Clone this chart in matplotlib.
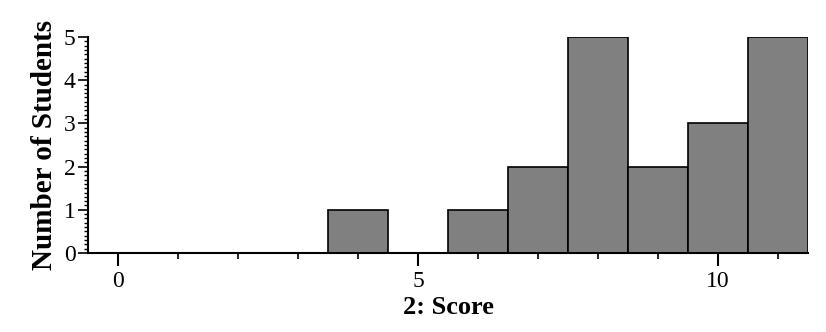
import matplotlib
matplotlib.use("Agg")
import matplotlib.pyplot as plt
from matplotlib.ticker import MultipleLocator

scores = [0, 1, 2, 3, 4, 5, 6, 7, 8, 9, 10, 11]
counts = [0, 0, 0, 0, 1, 0, 1, 2, 5, 2, 3, 5]

plt.rcParams['font.family'] = ['Liberation Serif', 'DejaVu Serif']

fig = plt.figure(figsize=(8.26, 3.32), dpi=100)
ax = fig.add_axes([88/826, 1-253/332, (808-88)/826, (253-37)/332])

ax.bar(scores, counts, width=1.0, color='#808080', edgecolor='black', linewidth=1.2)

ax.set_xlim(-0.5, 11.5)
ax.set_ylim(0, 5)
ax.spines['top'].set_visible(False)
ax.spines['right'].set_visible(False)
ax.spines['left'].set_linewidth(1.5)
ax.spines['bottom'].set_linewidth(1.5)

ax.xaxis.set_major_locator(MultipleLocator(5))
ax.xaxis.set_minor_locator(MultipleLocator(1))
ax.yaxis.set_major_locator(MultipleLocator(1))
ax.yaxis.set_minor_locator(MultipleLocator(0.1))

ax.tick_params(axis='x', which='major', direction='out', length=9, width=1.5, labelsize=17, pad=4)
ax.tick_params(axis='x', which='minor', direction='out', length=4, width=1.2)
ax.tick_params(axis='y', which='major', direction='out', length=7, width=1.2, labelsize=17, pad=2)
ax.tick_params(axis='y', which='minor', direction='out', length=3, width=1.0)

ax.set_xlabel('2: Score', fontsize=19, fontweight='bold', labelpad=3)
ax.set_ylabel('Number of Students', fontsize=21, fontweight='bold', labelpad=4)

fig.savefig('out.png', dpi=100)
